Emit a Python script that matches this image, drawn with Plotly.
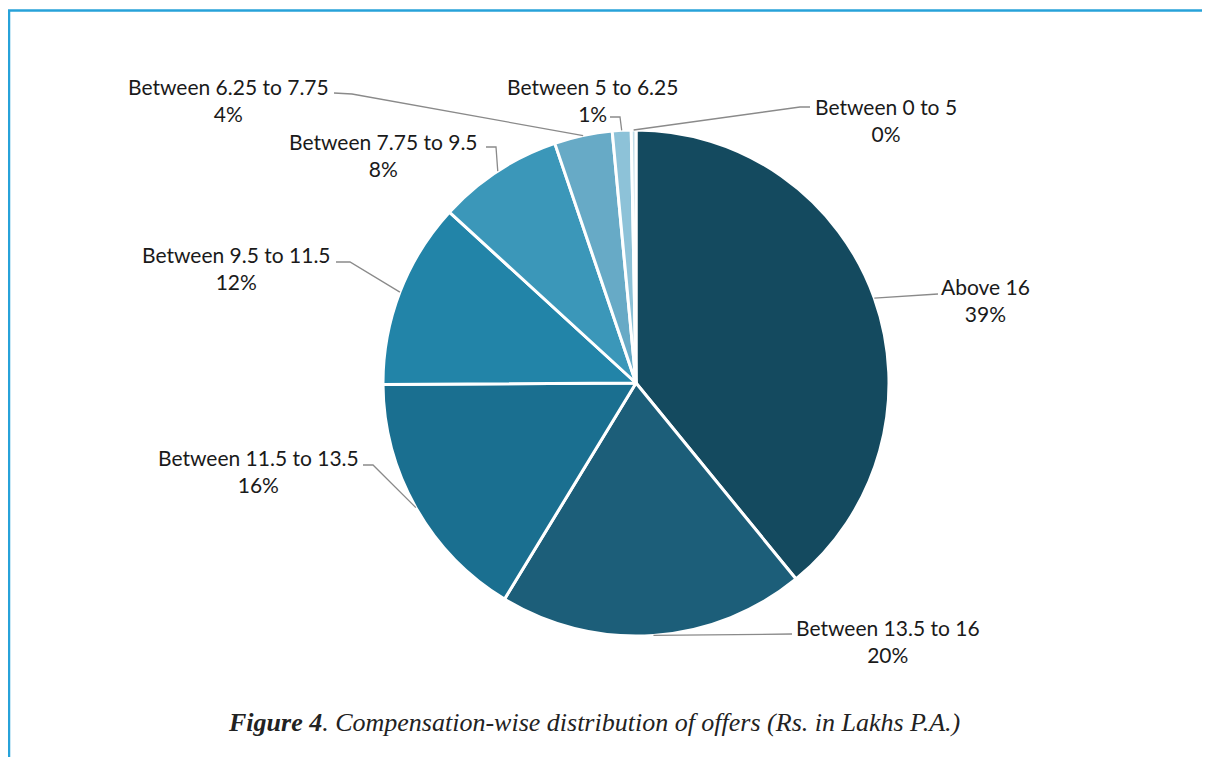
import math
import plotly.graph_objects as go

# ---- data ----
categories = ["Above 16", "Between 13.5 to 16", "Between 11.5 to 13.5",
              "Between 9.5 to 11.5", "Between 7.75 to 9.5", "Between 6.25 to 7.75",
              "Between 5 to 6.25", "Between 0 to 5"]
shares = [39.1, 19.6, 16.2, 11.9, 8.0, 3.7, 1.2, 0.3]
colors = ["#144a5f", "#1c5e79", "#1a6f90", "#2284a8", "#3b97b9", "#67aac6", "#8dc2d8", "#c2dde8"]
caption_bold = "Figure 4"
caption_rest = ". Compensation-wise distribution of offers (Rs. in Lakhs P.A.)"

# ---- layout constants (pixels, page coordinates; page body has 8px margin) ----
OFF = 8
W, H = 1210 - OFF, 757 - OFF
CX, CY, R = 636, 383, 253
# label block centre, leader start, leader elbow
label_pos = {
    "Above 16": ((985, 300), (938, 294), (938, 294)),
    "Between 13.5 to 16": ((888, 641), (792, 634), (792, 634)),
    "Between 11.5 to 13.5": ((258, 471), (363, 465), (373, 465)),
    "Between 9.5 to 11.5": ((236, 268), (336, 262), (350, 262)),
    "Between 7.75 to 9.5": ((383, 155), (486, 147), (496, 147)),
    "Between 6.25 to 7.75": ((228, 100), (334, 93), (352, 94)),
    "Between 5 to 6.25": ((592, 100), (610, 117), (620, 117)),
    "Between 0 to 5": ((886, 120), (810, 107), (800, 107)),
}

def px(x):
    return (x - OFF) / W

def py(y):
    return 1 - (y - OFF) / H

fig = go.Figure(go.Pie(
    labels=categories, values=shares, sort=False, direction="clockwise", rotation=0,
    marker=dict(colors=colors, line=dict(color="white", width=3)),
    textinfo="none", hoverinfo="label+percent", showlegend=False,
    domain=dict(x=[px(CX - R), px(CX + R)], y=[py(CY + R), py(CY - R)]),
))

total = sum(shares)
cum = 0.0
annotations = []
shapes = []
for cat, v in zip(categories, shares):
    mid = (cum + v / 2) / total
    cum += v
    th = 2 * math.pi * mid
    ex, ey = CX + R * math.sin(th), CY - R * math.cos(th)
    (tx, ty), (sx, sy), (bx, by) = label_pos[cat]
    shapes.append(dict(
        type="path", xref="paper", yref="paper",
        path=f"M {px(ex)} {py(ey)} L {px(bx)} {py(by)} L {px(sx)} {py(sy)}",
        line=dict(color="#8a8a8a", width=1.3)))
    annotations.append(dict(
        x=px(tx), y=py(ty), xref="paper", yref="paper", showarrow=False,
        xanchor="center", yanchor="middle",
        text=f"{cat}<br>{v / total:.0%}", align="center",
        font=dict(family="Lato", size=21, color="#1a1a1a")))

# frame lines
shapes.append(dict(type="line", xref="paper", yref="paper", x0=px(8), x1=1, y0=py(10.5), y1=py(10.5),
                   line=dict(color="#27a2d9", width=2.5)))
shapes.append(dict(type="line", xref="paper", yref="paper", x0=px(9), x1=px(9), y0=py(10), y1=0,
                   line=dict(color="#27a2d9", width=2.5)))

annotations.append(dict(
    x=px(594), y=py(722), xref="paper", yref="paper", showarrow=False,
    xanchor="center", yanchor="middle",
    text=f"<b><i>{caption_bold}</i></b><i>{caption_rest}</i>",
    font=dict(family="Liberation Serif", size=26, color="#222222")))

fig.update_layout(
    width=W, height=H, margin=dict(l=0, r=0, t=0, b=0),
    paper_bgcolor="white", plot_bgcolor="white",
    shapes=shapes, annotations=annotations,
)
fig.write_html("out.html")
